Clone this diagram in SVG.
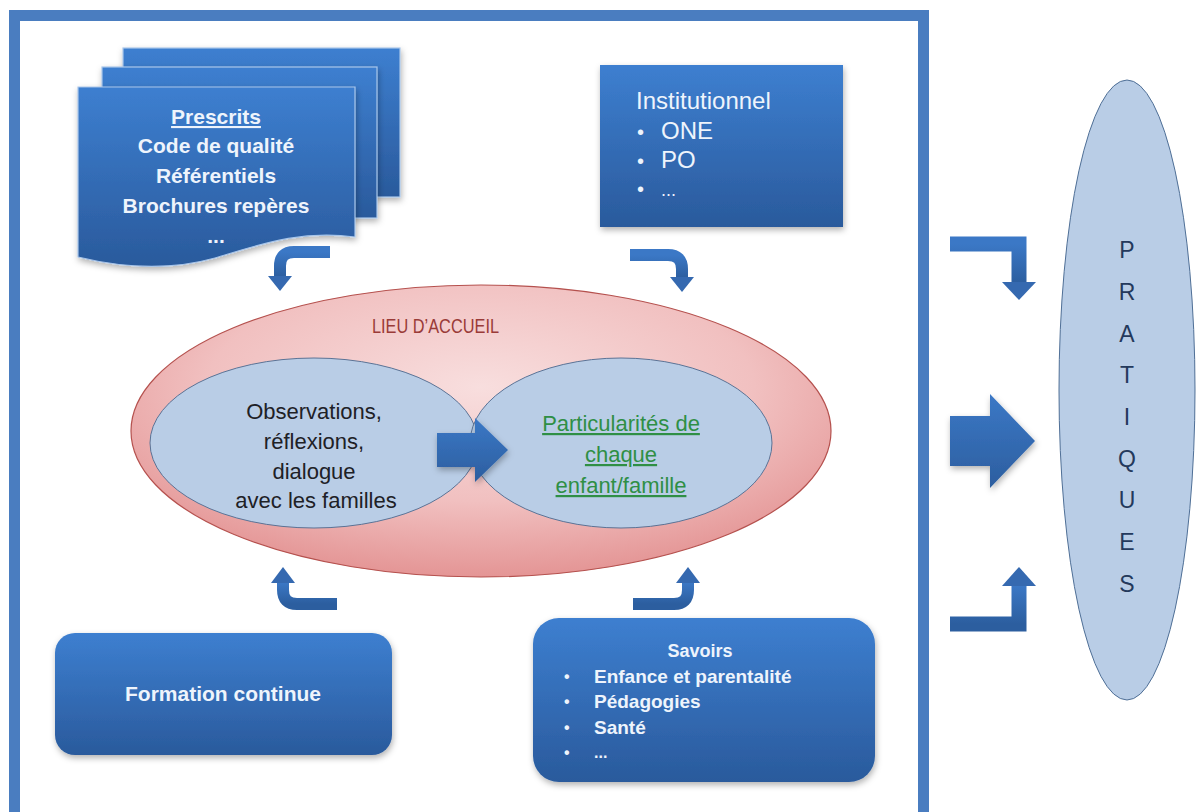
<svg xmlns="http://www.w3.org/2000/svg" width="1199" height="812" viewBox="0 0 1199 812">
<defs>
<linearGradient id="gBlue" x1="0" y1="0" x2="0" y2="1">
<stop offset="0" stop-color="#3d7fd0"/>
<stop offset="1" stop-color="#2a5a9c"/>
</linearGradient>
<linearGradient id="gArrow" x1="0" y1="0" x2="0" y2="1">
<stop offset="0" stop-color="#3b78c6"/>
<stop offset="1" stop-color="#2c5e9f"/>
</linearGradient>
<radialGradient id="gPink" cx="0.5" cy="0.35" r="0.65">
<stop offset="0" stop-color="#f8dede"/>
<stop offset="0.6" stop-color="#f1c0c0"/>
<stop offset="1" stop-color="#e49595"/>
</radialGradient>
<filter id="sh" x="-10%" y="-10%" width="125%" height="130%">
<feDropShadow dx="1" dy="3" stdDeviation="3" flood-color="#000" flood-opacity="0.3"/>
</filter>
<style>
.box{fill:url(#gBlue);filter:url(#sh);}
.sheet{fill:url(#gBlue);stroke:#a9c6ea;stroke-width:1.2;filter:url(#sh);}
.wt{font-family:"Liberation Sans",Arial,sans-serif;fill:#eef4fc;}
.b{font-weight:bold;}
.dk{font-family:"Liberation Sans",Arial,sans-serif;fill:#1e2126;font-size:22px;}
.gr{font-family:"Liberation Sans",Arial,sans-serif;fill:#2f8f45;font-size:22px;text-decoration:underline;}
.bar{fill:none;stroke:url(#gArrow);stroke-width:12;}
.head{fill:#3569b0;}
.blk{fill:url(#gArrow);filter:url(#sh);}
.pr{font-family:"Liberation Sans",Arial,sans-serif;fill:#24395c;font-size:23px;}
</style>
</defs>
<rect x="0" y="0" width="1199" height="812" fill="#ffffff"/>

<g id="frame">
<rect x="14.5" y="15.5" width="909" height="806" fill="none" stroke="#4a7dc0" stroke-width="11"/>
</g>

<g id="prescrits">
<rect class="sheet" x="123" y="48" width="277" height="149"/>
<rect class="sheet" x="102" y="67" width="275" height="151"/>
<path class="sheet" d="M78,87 H355 V237 C300,230 262,244 215,258 C165,272 115,266 78,257 Z"/>
<text class="wt b" font-size="21" text-anchor="middle" x="216" y="124" text-decoration="underline">Prescrits</text>
<text class="wt b" font-size="21" text-anchor="middle" x="216" y="153">Code de qualité</text>
<text class="wt b" font-size="21" text-anchor="middle" x="216" y="183">Référentiels</text>
<text class="wt b" font-size="21" text-anchor="middle" x="216" y="213">Brochures repères</text>
<text class="wt b" font-size="21" text-anchor="middle" x="216" y="243">...</text>
</g>

<g id="institutionnel">
<rect class="box" x="600" y="65" width="243" height="162"/>
<text class="wt" font-size="24" x="636" y="109">Institutionnel</text>
<text class="wt" font-size="20" x="637" y="139">•</text>
<text class="wt" font-size="24" x="661" y="139">ONE</text>
<text class="wt" font-size="20" x="637" y="168">•</text>
<text class="wt" font-size="24" x="661" y="168">PO</text>
<text class="wt" font-size="20" x="637" y="196">•</text>
<text class="wt" font-size="18" x="661" y="196">...</text>
</g>

<g id="lieu">
<ellipse cx="481" cy="431" rx="350" ry="146" fill="url(#gPink)" stroke="#b5514e" stroke-width="1.2"/>
<text x="372" y="333" textLength="127" lengthAdjust="spacingAndGlyphs" font-family="'Liberation Sans',Arial,sans-serif" font-size="20" fill="#9a3b38">LIEU D’ACCUEIL</text>
</g>

<g id="observations">
<ellipse cx="314" cy="443" rx="164" ry="85" fill="#b9cde6" stroke="#5a7396" stroke-width="1"/>
<text class="dk" text-anchor="middle" x="314" y="419">Observations,</text>
<text class="dk" text-anchor="middle" x="314" y="449">réflexions,</text>
<text class="dk" text-anchor="middle" x="314" y="479">dialogue</text>
<text class="dk" text-anchor="middle" x="316" y="508">avec les familles</text>
</g>

<g id="particularites">
<ellipse cx="621" cy="443" rx="151" ry="85" fill="#b9cde6" stroke="#5a7396" stroke-width="1"/>
<text class="gr" text-anchor="middle" x="621" y="431">Particularités de</text>
<text class="gr" text-anchor="middle" x="621" y="462">chaque</text>
<text class="gr" text-anchor="middle" x="621" y="493">enfant/famille</text>
</g>

<g id="formation">
<rect class="box" x="55" y="633" width="337" height="122" rx="20"/>
<text class="wt b" font-size="21" text-anchor="middle" x="223" y="701">Formation continue</text>
</g>

<g id="savoirs">
<rect class="box" x="533" y="618" width="342" height="164" rx="26"/>
<text class="wt b" font-size="18" text-anchor="middle" x="700" y="657">Savoirs</text>
<text class="wt b" font-size="16" x="564" y="682">•</text>
<text class="wt b" font-size="19" x="594" y="683">Enfance et parentalité</text>
<text class="wt b" font-size="16" x="564" y="707">•</text>
<text class="wt b" font-size="19" x="594" y="708">Pédagogies</text>
<text class="wt b" font-size="16" x="564" y="733">•</text>
<text class="wt b" font-size="19" x="594" y="734">Santé</text>
<text class="wt b" font-size="16" x="564" y="758">•</text>
<text class="wt b" font-size="16" x="594" y="758">...</text>
</g>

<g id="pratiques">
<ellipse cx="1127" cy="390" rx="68" ry="310" fill="#b9cde6" stroke="#4f6f96" stroke-width="1"/>
<text class="pr" text-anchor="middle" x="1127" y="258">P</text>
<text class="pr" text-anchor="middle" x="1127" y="300">R</text>
<text class="pr" text-anchor="middle" x="1127" y="342">A</text>
<text class="pr" text-anchor="middle" x="1127" y="383">T</text>
<text class="pr" text-anchor="middle" x="1127" y="425">I</text>
<text class="pr" text-anchor="middle" x="1127" y="467">Q</text>
<text class="pr" text-anchor="middle" x="1127" y="508">U</text>
<text class="pr" text-anchor="middle" x="1127" y="550">E</text>
<text class="pr" text-anchor="middle" x="1127" y="592">S</text>
</g>

<g id="connectors">
<path class="bar" d="M330,252 H294 Q280,252 280,266 V277"/>
<polygon class="head" points="268,276 292,276 280,291"/>
<path class="bar" d="M630,255 H668 Q682,255 682,269 V278"/>
<polygon class="head" points="670,277 694,277 682,292"/>
<path class="bar" d="M337,604 H297 Q283,604 283,590 V582"/>
<polygon class="head" points="271,583 295,583 283,567"/>
<path class="bar" d="M633,604 H674 Q688,604 688,590 V582"/>
<polygon class="head" points="676,583 700,583 688,567"/>
<polygon class="blk" points="437,433 475,433 475,418 508,450 475,482 475,467 437,467"/>
<path class="bar" style="stroke-width:15" d="M950,244 H1019 V283"/>
<polygon class="head" points="1002,282 1036,282 1019,300"/>
<path class="bar" style="stroke-width:15" d="M950,624 H1019 V585"/>
<polygon class="head" points="1002,586 1036,586 1019,567"/>
<polygon class="blk" points="950,416 990,416 990,394 1035,441 990,488 990,466 950,466"/>
</g>
</svg>
